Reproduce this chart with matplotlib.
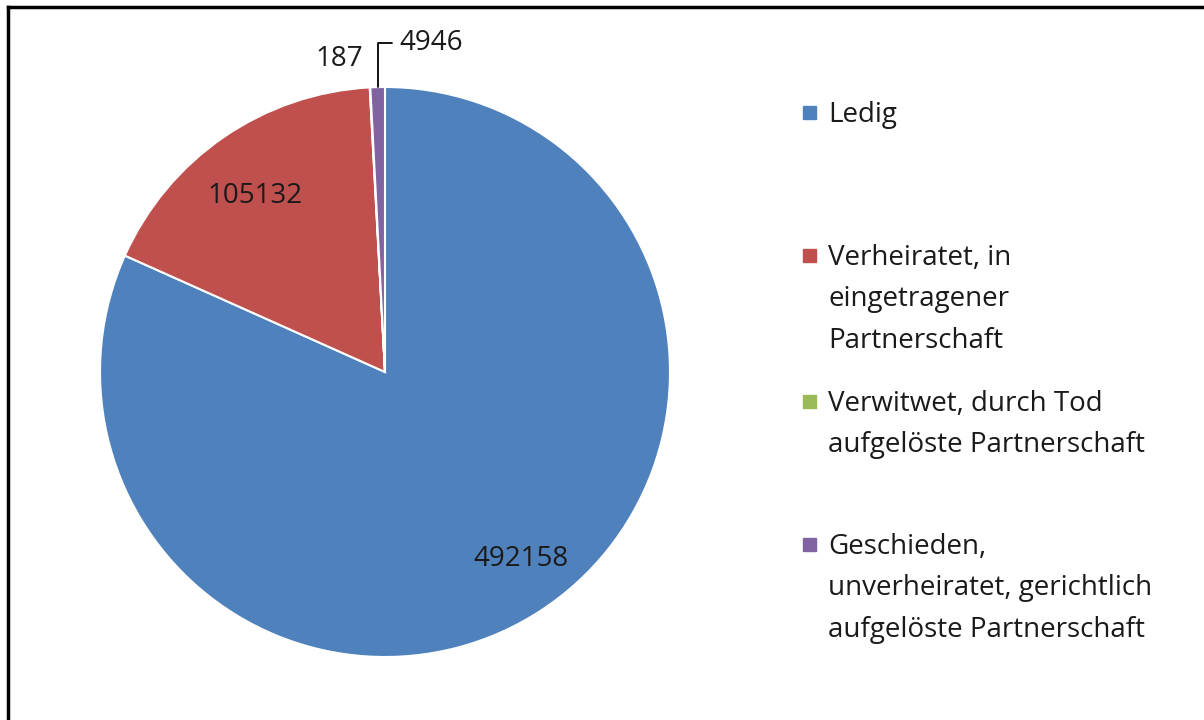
import numpy as np
import matplotlib
matplotlib.use("Agg")
import matplotlib.pyplot as plt
from matplotlib.lines import Line2D
from matplotlib.patches import Rectangle

plt.rcParams['font.family'] = ['Open Sans', 'DejaVu Sans']

# data
categories = ["Ledig",
              "Verheiratet, in\neingetragener\nPartnerschaft",
              "Verwitwet, durch Tod\naufgelöste Partnerschaft",
              "Geschieden,\nunverheiratet, gerichtlich\naufgelöste Partnerschaft"]
values = [492158, 105132, 187, 4946]
colors = ["#4F81BD", "#C0504D", "#9BBB59", "#8064A2"]

fig = plt.figure(figsize=(12.04, 7.2), dpi=100)
ax = fig.add_axes([100 / 1204, 63 / 720, 570 / 1204, 570 / 720])

wedges, _ = ax.pie(values, colors=colors, startangle=90, counterclock=False,
                   radius=1, wedgeprops=dict(edgecolor="white", linewidth=1.5))
ax.set_xlim(-1, 1)
ax.set_ylim(-1, 1)

def mid(w):
    return np.deg2rad((w.theta1 + w.theta2) / 2)

# inside labels
for w, v, d, shift in [(wedges[0], values[0], 0.81, 3.0), (wedges[1], values[1], 0.77, 2.0)]:
    a = mid(w) + np.deg2rad(shift)
    ax.text(d * np.cos(a), d * np.sin(a), str(v), ha="center", va="center",
            fontsize=20, color="#1a1a1a")

# small slices, outside
ax.text(-0.16, 1.10, str(values[2]), ha="center", va="center", fontsize=20,
        color="#1a1a1a")
a = mid(wedges[3])
ax.annotate(str(values[3]), xy=(np.cos(a), np.sin(a)), xytext=(0.05, 1.155),
            ha="left", va="center", fontsize=20, color="#1a1a1a",
            arrowprops=dict(arrowstyle="-", color="black", lw=1.3,
                            shrinkA=3, shrinkB=0,
                            connectionstyle="angle,angleA=0,angleB=90,rad=0"),
            annotation_clip=False)

# legend drawn by hand so the marker sits on the first line
leg_base = [123, 266, 412, 555]
for c, lab, y in zip(colors, categories, leg_base):
    fig.patches.append(Rectangle((803 / 1204, 1 - (y - 4) / 720), 13 / 1204, 13 / 720,
                                 transform=fig.transFigure, color=c))
    fig.text(828 / 1204, 1 - (y - 22) / 720, lab, ha="left", va="top", fontsize=20,
             color="#1a1a1a", linespacing=1.64)

# frame (top and left edges only visible)
fig.add_artist(Line2D([8 / 1204, 1], [1 - 7 / 720, 1 - 7 / 720], color="black",
                      lw=2.5, transform=fig.transFigure))
fig.add_artist(Line2D([8 / 1204, 8 / 1204], [0, 1 - 7 / 720], color="black",
                      lw=2.5, transform=fig.transFigure))

fig.savefig("out.png", dpi=100, facecolor="white")
